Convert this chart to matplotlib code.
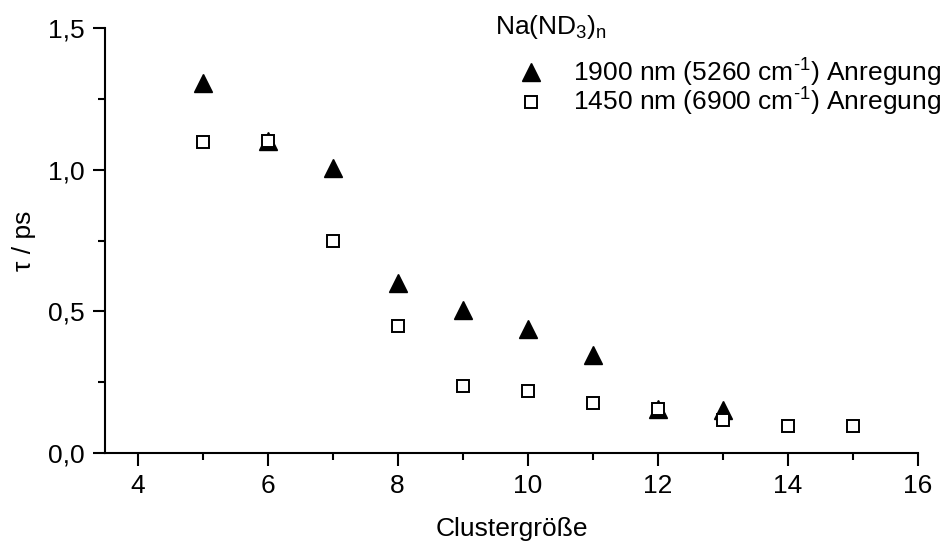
import matplotlib
matplotlib.use("Agg")
import matplotlib.pyplot as plt
from matplotlib.ticker import FuncFormatter, MultipleLocator

plt.rcParams['font.family'] = ['Liberation Sans', 'DejaVu Sans']
plt.rcParams['mathtext.fontset'] = 'custom'
plt.rcParams['mathtext.rm'] = 'Liberation Sans'
plt.rcParams['mathtext.it'] = 'Liberation Sans'

# Data
cluster_tri = [5, 6, 7, 8, 9, 10, 11, 12, 13]
tau_1900 = [1.305, 1.10, 1.005, 0.60, 0.505, 0.437, 0.346, 0.155, 0.152]
cluster_sq = [5, 6, 7, 8, 9, 10, 11, 12, 13, 14, 15]
tau_1450 = [1.098, 1.10, 0.75, 0.448, 0.236, 0.219, 0.177, 0.155, 0.117, 0.097, 0.097]

label_1900 = r'1900 nm (5260 cm$^{\text{-1}}$) Anregung'
label_1450 = r'1450 nm (6900 cm$^{\text{-1}}$) Anregung'
legend_title = r'Na(ND$_3$)$_n$'

FS = 19

fig = plt.figure(figsize=(9.49, 5.42), dpi=100)
ax = fig.add_axes([105/949, 1-453/542, (918-105)/949, (453-28)/542])

ax.plot(cluster_tri, tau_1900, linestyle='none', marker='^', markersize=12.5,
        color='black', label=label_1900)
ax.plot(cluster_sq, tau_1450, linestyle='none', marker='s', markersize=8.5,
        markerfacecolor='white', markeredgecolor='black', markeredgewidth=1.4,
        label=label_1450)

ax.set_xlim(3.5, 16)
ax.set_ylim(0, 1.5)
ax.xaxis.set_major_locator(MultipleLocator(2))
ax.xaxis.set_minor_locator(MultipleLocator(1))
ax.yaxis.set_major_locator(MultipleLocator(0.5))
ax.yaxis.set_minor_locator(MultipleLocator(0.25))
ax.yaxis.set_major_formatter(FuncFormatter(lambda v, p: f"{v:.1f}".replace('.', ',')))

for s in ['top', 'right']:
    ax.spines[s].set_visible(False)
for s in ['left', 'bottom']:
    ax.spines[s].set_linewidth(1.5)

ax.tick_params(which='major', direction='out', length=9, width=1.5, labelsize=FS)
ax.tick_params(axis='x', which='major', pad=6)
ax.tick_params(axis='y', which='major', pad=6)
ax.tick_params(which='minor', direction='out', length=5, width=1.5)

ax.set_xlabel('Clustergröße', fontsize=FS, labelpad=14)
ax.set_ylabel('τ / ps', fontsize=FS, labelpad=8)

leg = ax.legend(loc='upper left', bbox_to_anchor=(490/949, 1-8/542),
                bbox_transform=fig.transFigure, frameon=False, fontsize=FS,
                title=legend_title, title_fontsize=FS, alignment='left',
                handletextpad=0.25, labelspacing=-0.1, borderaxespad=0,
                handlelength=2.7, borderpad=0.2)
leg._legend_box.sep = 11
leg.set_clip_on(False)

fig.savefig('out.png', dpi=100)
